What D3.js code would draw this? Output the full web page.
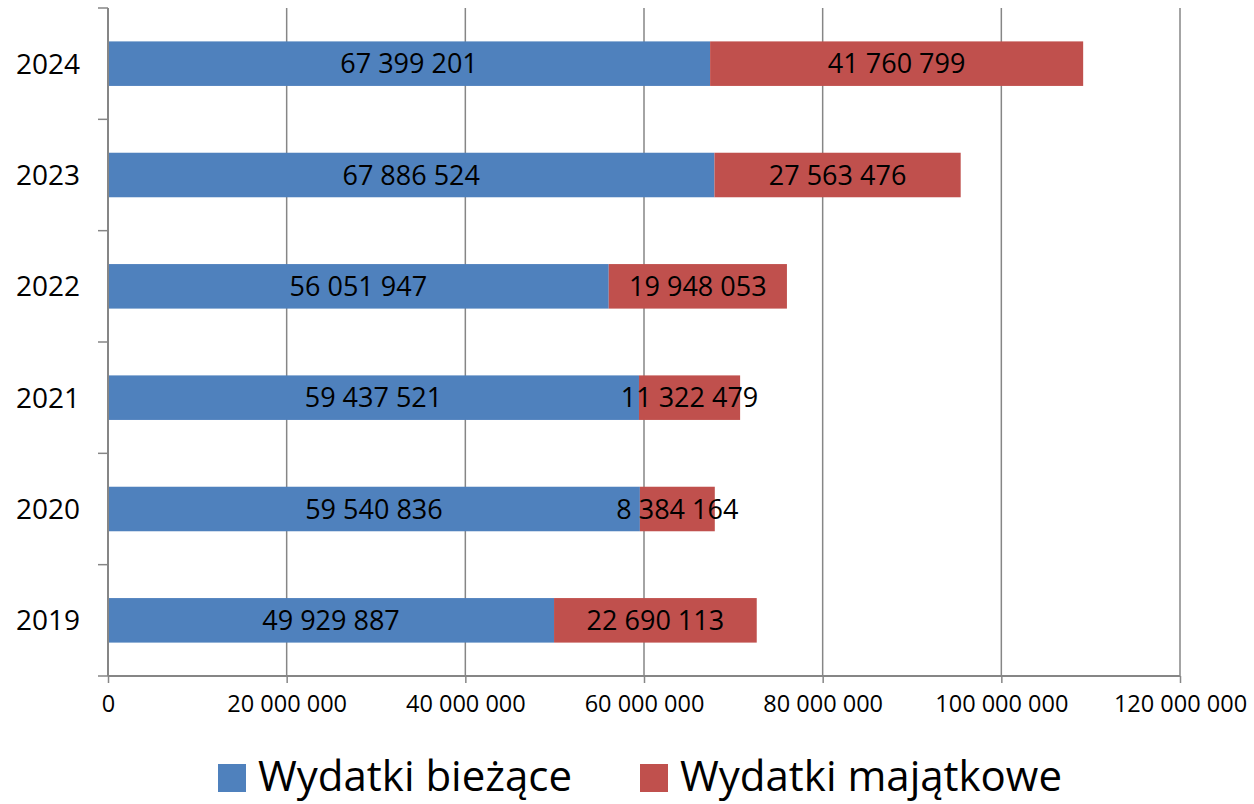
<!DOCTYPE html>
<html>
<head>
<meta charset="utf-8">
<script src="https://cdn.jsdelivr.net/npm/d3@7"></script>
<style>
  body { margin: 0; background: #fff; }
  svg { display: block; font-family: "Open Sans", sans-serif; }
</style>
</head>
<body>
<div id="chart"></div>
<script>
var years = ["2019", "2020", "2021", "2022", "2023", "2024"];
var biezace = [49929887, 59540836, 59437521, 56051947, 67886524, 67399201];
var majatkowe = [22690113, 8384164, 11322479, 19948053, 27563476, 41760799];
var seriesNames = ["Wydatki bieżące", "Wydatki majątkowe"];
var seriesColors = ["#4F81BD", "#C0504D"];
var xTicks = [0, 20000000, 40000000, 60000000, 80000000, 100000000, 120000000];

var w = 1254, h = 804;
var plotLeft = 108, plotRight = 1180, plotTop = 8, plotBottom = 676;

var svg = d3.select("#chart").append("svg")
	.attr("width", w)
	.attr("height", h);

var x = d3.scaleLinear().domain([0, 120000000]).range([plotLeft, plotRight]);
var y = d3.scaleBand().domain(years.slice().reverse())
	.range([plotTop, plotBottom]).paddingInner(0.6).paddingOuter(0.3);

// liczby z odstępem tysięcy
function fmt(v) {
	return d3.format(",")(v).replace(/,/g, " ");
}

// pionowe linie siatki
svg.append("g").selectAll("line")
	.data(xTicks.slice(1))
	.enter().append("line")
	.attr("x1", function(d) { return x(d); })
	.attr("x2", function(d) { return x(d); })
	.attr("y1", plotTop)
	.attr("y2", plotBottom)
	.attr("stroke", "#868686")
	.attr("stroke-width", 1.5);

// słupki
var segs = [];
years.forEach(function(yr, i) {
	segs.push({ year: yr, s: 0, x0: 0, x1: biezace[i], v: biezace[i] });
	segs.push({ year: yr, s: 1, x0: biezace[i], x1: biezace[i] + majatkowe[i], v: majatkowe[i] });
});

svg.append("g").selectAll("rect")
	.data(segs)
	.enter().append("rect")
	.attr("x", function(d) { return x(d.x0); })
	.attr("width", function(d) { return x(d.x1) - x(d.x0); })
	.attr("y", function(d) { return y(d.year); })
	.attr("height", y.bandwidth())
	.attr("fill", function(d) { return seriesColors[d.s]; });

svg.append("g").selectAll("text")
	.data(segs)
	.enter().append("text")
	.attr("x", function(d) { return (x(d.x0) + x(d.x1)) / 2; })
	.attr("y", function(d) { return y(d.year) + y.bandwidth() / 2; })
	.attr("dy", "0.36em")
	.attr("text-anchor", "middle")
	.attr("font-size", 27)
	.attr("fill", "#000")
	.text(function(d) { return fmt(d.v); });

// oś X
var xAxis = svg.append("g")
	.attr("transform", "translate(0," + plotBottom + ")")
	.call(d3.axisBottom(x).tickValues(xTicks).tickSize(7).tickPadding(12)
		.tickFormat(fmt));
xAxis.select(".domain").attr("stroke", "#868686").attr("stroke-width", 2)
	.attr("d", "M" + plotLeft + ",0H" + plotRight);
xAxis.selectAll(".tick line").attr("stroke", "#868686").attr("stroke-width", 1.5);
xAxis.selectAll(".tick text").attr("font-size", 23.5).attr("font-family", "Open Sans")
	.attr("fill", "#000");

// oś Y
var yAxis = svg.append("g");
yAxis.append("line")
	.attr("x1", plotLeft).attr("x2", plotLeft)
	.attr("y1", plotTop).attr("y2", plotBottom)
	.attr("stroke", "#868686").attr("stroke-width", 2);
var bounds = d3.range(years.length + 1).map(function(i) { return plotTop + i * y.step(); });
yAxis.selectAll("line.b")
	.data(bounds)
	.enter().append("line")
	.attr("class", "b")
	.attr("x1", plotLeft - 10).attr("x2", plotLeft)
	.attr("y1", function(d) { return d; })
	.attr("y2", function(d) { return d; })
	.attr("stroke", "#868686").attr("stroke-width", 1.5);
yAxis.selectAll("text")
	.data(years)
	.enter().append("text")
	.attr("x", 80)
	.attr("y", function(d) { return y(d) + y.bandwidth() / 2; })
	.attr("dy", "0.36em")
	.attr("text-anchor", "end")
	.attr("font-size", 28)
	.text(function(d) { return d; });

// legenda
var legendX = [218, 640];
var legend = svg.append("g").selectAll("g")
	.data(seriesNames)
	.enter().append("g")
	.attr("transform", function(d, i) { return "translate(" + legendX[i] + ",764)"; });
legend.append("rect")
	.attr("width", 28).attr("height", 28)
	.attr("fill", function(d, i) { return seriesColors[i]; });
legend.append("text")
	.attr("x", 40)
	.attr("y", 12)
	.attr("dy", "0.36em")
	.attr("font-size", 42)
	.text(function(d) { return d; });
</script>
</body>
</html>
